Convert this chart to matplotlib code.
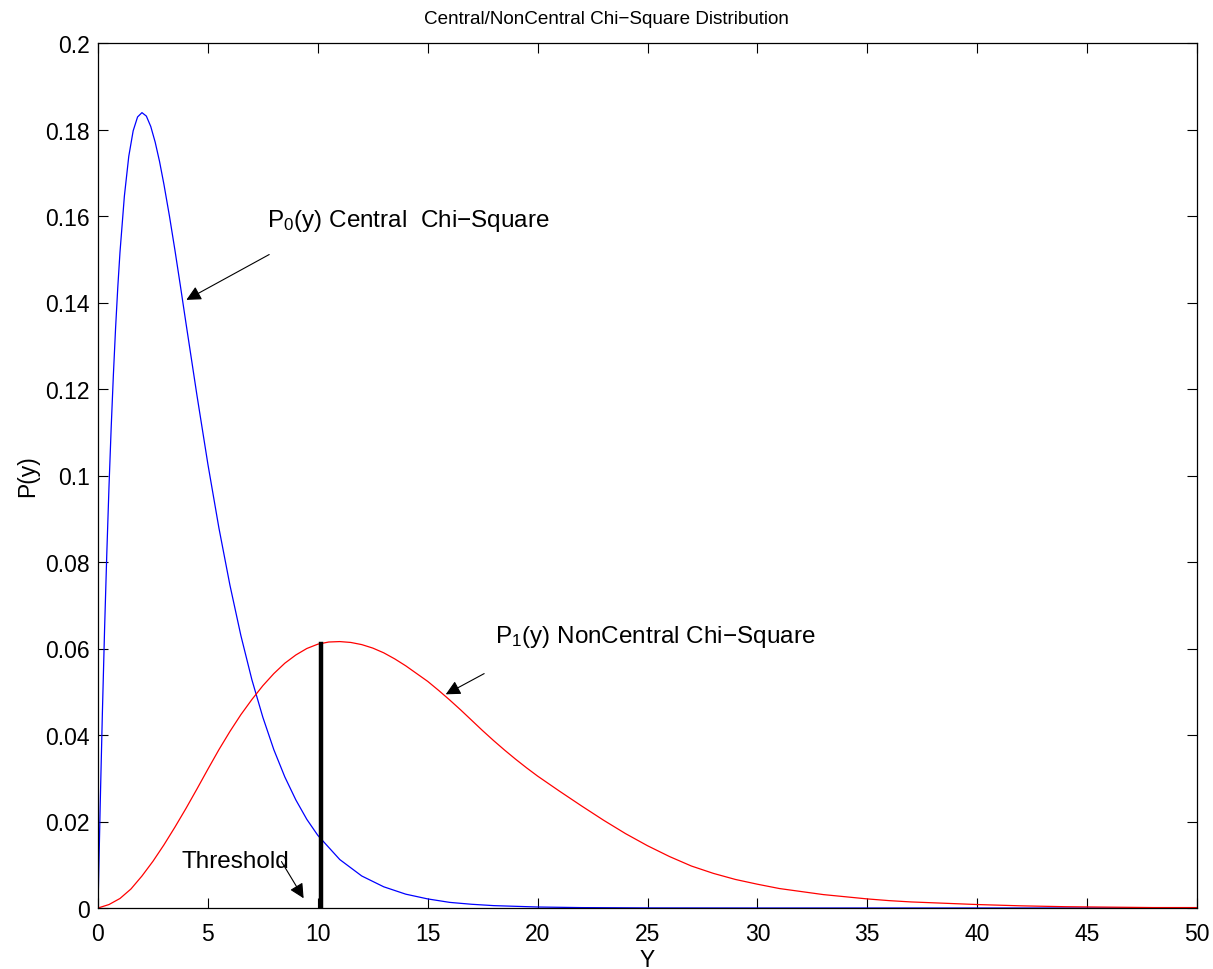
import numpy as np
import matplotlib
matplotlib.use("Agg")
import matplotlib.pyplot as plt

plt.rcParams['font.family'] = ['Liberation Sans', 'DejaVu Sans']
plt.rcParams['mathtext.fontset'] = 'custom'
plt.rcParams['mathtext.rm'] = 'Liberation Sans'
plt.rcParams['mathtext.it'] = 'Liberation Sans'

# central chi-square P0(y)
y0_x = [0, 0.1, 0.2, 0.3, 0.4, 0.5, 0.6, 0.7, 0.8, 0.9, 1.0, 1.2, 1.4, 1.6, 1.8, 2.0,
        2.2, 2.4, 2.6, 2.8, 3.0, 3.25, 3.5, 3.75, 4.0, 4.5, 5.0, 5.5, 6.0, 6.5, 7.0, 7.5,
        8.0, 8.5, 9.0, 9.5, 10, 11, 12, 13, 14, 15, 16, 17, 18, 20, 22, 25, 30, 40, 50]
y0_p = [0, 0.0238, 0.0452, 0.0646, 0.0819, 0.0974, 0.1111, 0.1233, 0.1341, 0.1435, 0.1516,
        0.1646, 0.1738, 0.1797, 0.1829, 0.1839, 0.1831, 0.1807, 0.1771, 0.1726, 0.1673,
        0.1600, 0.1521, 0.1438, 0.1353, 0.1186, 0.1026, 0.0879, 0.0747, 0.0630, 0.0528,
        0.0441, 0.0366, 0.0303, 0.0250, 0.0205, 0.0168, 0.0112, 0.0074, 0.0049, 0.0032,
        0.0021, 0.0013, 0.00086, 0.00055, 0.00023, 0.00009, 0.00002, 0, 0, 0]

# noncentral chi-square P1(y)
y1_x = [0, 0.5, 1, 1.5, 2, 2.5, 3, 3.5, 4, 4.5, 5, 5.5, 6, 6.5, 7, 7.5, 8, 8.5, 9, 9.5,
        10, 10.5, 11, 11.5, 12, 12.5, 13, 13.5, 14, 14.5, 15, 15.5, 16, 16.5, 17, 17.5,
        18, 18.5, 19, 19.5, 20, 21, 22, 23, 24, 25, 26, 27, 28, 29, 30, 31, 32, 33, 34,
        35, 36, 37, 38, 39, 40, 42, 44, 46, 48, 50]
y1_p = [0, 0.0008, 0.0022, 0.0044, 0.0074, 0.0108, 0.0146, 0.0187, 0.0230, 0.0275,
        0.0321, 0.0366, 0.0408, 0.0447, 0.0482, 0.0514, 0.0542, 0.0566, 0.0585, 0.0600,
        0.0610, 0.0615, 0.0616, 0.0614, 0.0609, 0.0601, 0.0590, 0.0576, 0.0560, 0.0542,
        0.0524, 0.0503, 0.0481, 0.0458, 0.0434, 0.0410, 0.0387, 0.0365, 0.0344, 0.0324,
        0.0305, 0.0270, 0.0236, 0.0203, 0.0172, 0.0144, 0.0119, 0.0097, 0.0080, 0.0066,
        0.0055, 0.0045, 0.0038, 0.0031, 0.0026, 0.0021, 0.0017, 0.0014, 0.0012, 0.0010,
        0.0008, 0.0005, 0.0003, 0.0002, 0.0001, 0.0001]

threshold = 10.13
threshold_top = 0.061

fig = plt.figure(figsize=(12.13, 9.7), dpi=100)
ax = fig.add_axes([98/1213, 1-909/970, (1197-98)/1213, (909-44)/970])

ax.plot(y0_x, y0_p, color='blue', lw=0.9)
ax.plot(y1_x, y1_p, color='red', lw=0.9)
ax.plot([threshold, threshold], [0, threshold_top], color='black', lw=3.2)

ax.set_xlim(0, 50)
ax.set_ylim(0, 0.2)
ax.set_xticks(np.arange(0, 51, 5))
ax.set_yticks(np.arange(0, 0.201, 0.02))
ax.set_yticklabels(['0', '0.02', '0.04', '0.06', '0.08', '0.1', '0.12', '0.14', '0.16', '0.18', '0.2'])
ax.tick_params(direction='in', top=True, right=True, length=7, width=0.8, labelsize=16.5)
ax.tick_params(axis='x', pad=10)
ax.tick_params(axis='y', pad=6)
for s in ax.spines.values():
    s.set_linewidth(0.9)

fig.text(606/1213, 1-20/970, 'Central/NonCentral Chi\u2212Square Distribution',
         fontsize=13.6, ha='center', va='center')
ax.set_xlabel('Y', fontsize=16.5, labelpad=2)
ax.set_ylabel('P(y)', fontsize=16.5, labelpad=4)

arw = dict(arrowstyle='-|>', color='black', lw=0.8, mutation_scale=22)
ax.annotate('P$_0$(y) Central  Chi\u2212Square', xy=(3.91, 0.1403), xytext=(7.68, 0.159),
            fontsize=17.5, va='center', ha='left')
ax.annotate('', xy=(3.91, 0.1403), xytext=(7.9, 0.1514), arrowprops=arw)
ax.annotate('P$_1$(y) NonCentral Chi\u2212Square', xy=(15.71, 0.0491), xytext=(18.06, 0.063),
            fontsize=17.5, va='center', ha='left')
ax.annotate('', xy=(15.71, 0.0491), xytext=(17.68, 0.0545), arrowprops=arw)
ax.text(3.8, 0.0109, 'Threshold', fontsize=17.5, va='center', ha='left')
ax.annotate('', xy=(9.42, 0.0017), xytext=(8.28, 0.0113), arrowprops=arw)

fig.savefig('out.png', dpi=100)
